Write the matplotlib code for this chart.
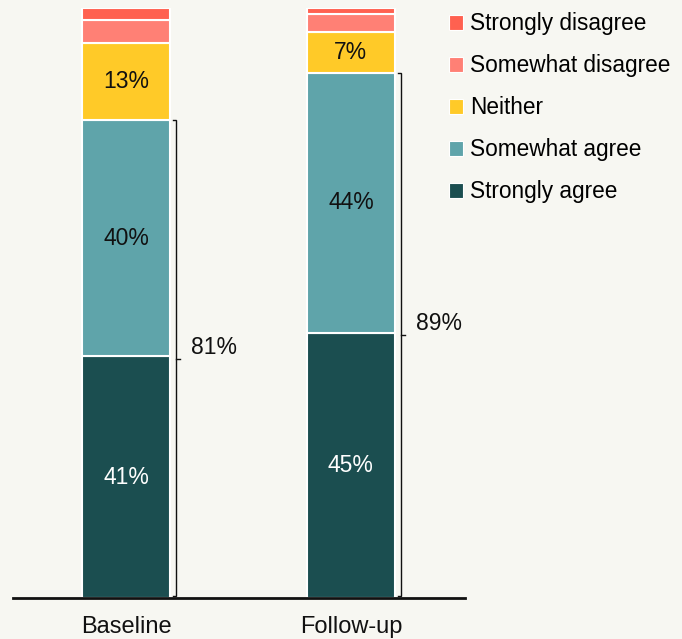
import numpy as np
import matplotlib.pyplot as plt
from matplotlib.patches import Patch

plt.rcParams["font.family"] = ["Liberation Sans", "DejaVu Sans"]

# ==============================================================
#  Data
# ==============================================================
groups = ["Baseline", "Follow-up"]
categories = ["Strongly agree", "Somewhat agree", "Neither",
              "Somewhat disagree", "Strongly disagree"]
strongly_agree = [41, 45]
somewhat_agree = [40, 44]
neither = [13, 7]
somewhat_disagree = [4, 3]
strongly_disagree = [2, 1]
agree_total = ["81%", "89%"]

colors = ["#1b4e50", "#5fa4aa", "#ffca28", "#ff8075", "#ff6150"]
text_colors = ["white", "#111111", "#111111", None, None]
bg = "#f7f7f2"

series = [strongly_agree, somewhat_agree, neither,
          somewhat_disagree, strongly_disagree]

# ==============================================================
#  Plot
# ==============================================================
fig = plt.figure(figsize=(6.82, 6.39), dpi=100, facecolor=bg)
ax = fig.add_axes([13 / 682, 41 / 639, 452 / 682, 590 / 639])
ax.set_facecolor(bg)

x = np.arange(len(groups))
width = 0.39
bottom = np.zeros(len(groups))
for vals, col, tcol in zip(series, colors, text_colors):
    vals = np.array(vals, dtype=float)
    ax.bar(x, vals, width, bottom=bottom, color=col,
           edgecolor="white", linewidth=1.5)
    if tcol is not None:
        for xi, b, v in zip(x, bottom, vals):
            ax.text(xi, b + v / 2, f"{int(v)}%", ha="center", va="center",
                    fontsize=16.5, color=tcol)
    bottom += vals

# brackets for total agree
for xi, a, s, lab in zip(x, strongly_agree, somewhat_agree, agree_total):
    top = a + s
    bx = xi + width / 2 + 0.027
    hook = 0.012
    ax.plot([bx - hook, bx, bx, bx - hook], [top, top, 0.4, 0.4],
            color="#111111", lw=1.0, solid_joinstyle="miter")
    ax.plot([bx, bx + 0.02], [top / 2, top / 2], color="#111111", lw=1.0)
    ax.text(bx + 0.068, top / 2 + 2.0, lab, ha="left", va="center",
            fontsize=16.5, color="#111111")

ax.set_xlim(-0.502, 1.507)
ax.set_ylim(0, 100)
ax.set_xticks(x)
ax.set_xticklabels(groups, fontsize=17, color="#111111")
ax.tick_params(axis="x", length=0, pad=13)
ax.set_yticks([])
for side in ("left", "right", "top"):
    ax.spines[side].set_visible(False)
ax.spines["bottom"].set_linewidth(2)
ax.spines["bottom"].set_color("#111111")

handles = [Patch(facecolor=c, edgecolor="white", linewidth=0.8)
           for c in colors[::-1]]
fig.legend(handles, categories[::-1], loc="upper left",
           bbox_to_anchor=(0.645, 0.995), frameon=False, fontsize=16.3,
           handlelength=0.62, handleheight=0.62, handletextpad=0.3,
           labelspacing=0.84, borderaxespad=0)

fig.savefig("out.png", dpi=100, facecolor=bg)
